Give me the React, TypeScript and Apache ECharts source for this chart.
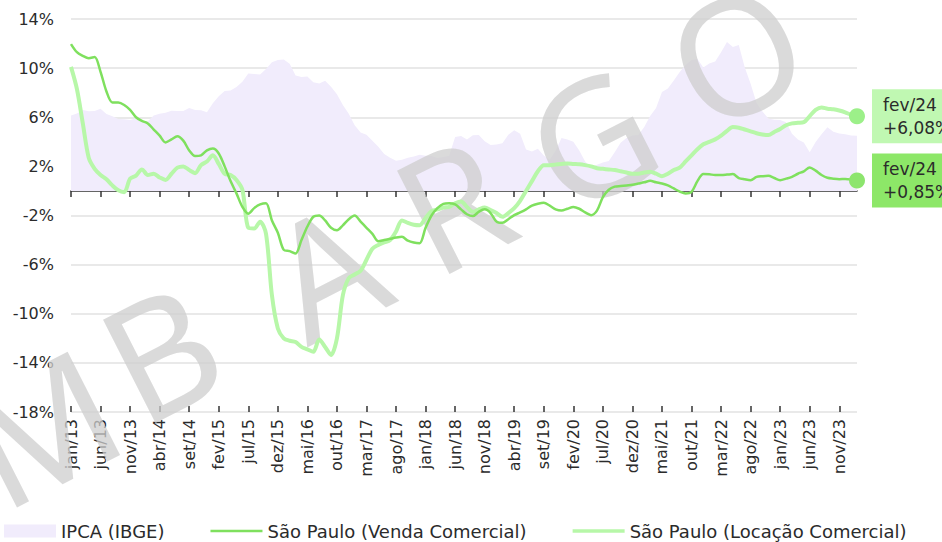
import React, { useEffect, useRef } from "react";
import * as echarts from "echarts";

const MONTHS = ["jan", "fev", "mar", "abr", "mai", "jun", "jul", "ago", "set", "out", "nov", "dez"];
const categories: string[] = [];
for (let y = 2013; y <= 2024; y++) {
  for (let m = 0; m < 12; m++) {
    if (y === 2024 && m > 1) break;
    categories.push(`${MONTHS[m]}/${String(y).slice(2)}`);
  }
}

const ipca = [
  6.15, 6.31, 6.59, 6.49, 6.5, 6.7, 6.27, 6.09, 5.86, 5.84, 5.77, 5.91,
  5.59, 5.68, 6.15, 6.28, 6.37, 6.52, 6.5, 6.51, 6.75, 6.59, 6.56, 6.41,
  7.14, 7.7, 8.13, 8.17, 8.47, 8.89, 9.56, 9.53, 9.49, 9.93, 10.48, 10.67,
  10.71, 10.36, 9.39, 9.28, 9.32, 8.84, 8.74, 8.97, 8.48, 7.87, 6.99, 6.29,
  5.35, 4.76, 4.57, 4.08, 3.6, 3.0, 2.71, 2.46, 2.54, 2.7, 2.8, 2.95,
  2.86, 2.84, 2.68, 2.76, 2.86, 4.39, 4.48, 4.19, 4.53, 4.56, 4.05, 3.75,
  3.78, 3.89, 4.58, 4.94, 4.66, 3.37, 3.22, 3.43, 2.89, 2.54, 3.27, 4.31,
  4.19, 4.01, 3.3, 2.4, 1.88, 2.13, 2.31, 2.44, 3.14, 3.92, 4.31, 4.52,
  4.56, 5.2, 6.1, 6.76, 8.06, 8.35, 8.99, 9.68, 10.25, 10.67, 10.74, 10.06,
  10.38, 10.54, 11.3, 12.13, 11.73, 11.89, 10.07, 8.73, 7.17, 6.47, 5.9, 5.79,
  5.77, 5.6, 4.65, 4.18, 3.94, 3.16, 3.99, 4.61, 5.19, 4.82, 4.68, 4.62,
  4.51, 4.5,
];

const venda = [
  11.96, 11.3, 11.0, 10.8, 10.9, 9.7, 8.1, 7.2, 7.2, 7.0, 6.6, 6.0,
  5.7, 5.5, 5.0, 4.5, 3.95, 4.2, 4.45, 4.1, 3.3, 2.85, 2.9, 3.3,
  3.45, 3.05, 2.0, 0.8, -0.2, -1.3, -1.85, -1.4, -1.1, -1.0, -2.4, -3.4,
  -4.8, -4.9, -5.1, -4.0, -2.9, -2.1, -2.0, -2.4, -3.0, -3.2, -2.8, -2.3,
  -2.0, -2.5, -3.0, -3.5, -4.1, -4.0, -3.9, -3.8, -3.74, -4.05, -4.2, -4.25,
  -3.0, -2.0, -1.4, -1.05, -1.0, -1.1, -1.5, -1.9, -2.05, -1.7, -1.5, -1.8,
  -2.5, -2.6, -2.3, -1.97, -1.75, -1.5, -1.2, -1.05, -0.97, -1.2, -1.5, -1.6,
  -1.45, -1.3, -1.45, -1.75, -1.97, -1.6, -0.5, 0.1, 0.35, 0.4, 0.45, 0.5,
  0.6, 0.7, 0.82, 0.7, 0.6, 0.45, 0.2, -0.05, -0.2, -0.07, 0.8, 1.37,
  1.35, 1.3, 1.3, 1.33, 1.37, 1.05, 0.95, 0.88, 1.15, 1.2, 1.23, 1.05,
  0.88, 1.0, 1.15, 1.4, 1.6, 1.91, 1.65, 1.3, 1.07, 1.0, 0.96, 0.97,
  0.93, 0.85,
];

const locacao = [
  10.1, 8.3, 5.5, 2.7, 1.8, 1.3, 0.95, 0.45, 0.05, -0.1, 1.0, 1.25,
  1.75, 1.3, 1.4, 1.1, 0.9, 1.4, 1.9, 2.0, 1.7, 1.45, 2.1, 2.4,
  2.9, 2.2, 1.4, 1.3, 0.9, 0.1, -3.0, -3.06, -2.5, -3.5, -8.5, -11.2,
  -12.0, -12.2, -12.3, -12.7, -12.9, -13.1, -12.1, -12.7, -13.35, -12.0, -8.5, -7.1,
  -6.8, -6.5, -5.6, -4.7, -4.4, -4.2, -4.0, -3.3, -2.4, -2.6, -2.75, -2.79,
  -2.2, -1.65, -1.5, -1.35, -1.3, -1.0, -0.85, -1.3, -1.7, -1.5, -1.35, -1.55,
  -1.8, -2.11, -1.8, -1.4, -0.8, 0.0, 0.8, 1.6, 2.1, 2.1, 2.15, 2.2,
  2.24, 2.2, 2.17, 2.1, 2.0, 1.85, 1.8, 1.75, 1.7, 1.6, 1.5, 1.4,
  1.4, 1.5, 1.56, 1.4, 1.2, 1.4, 1.7, 1.9, 2.4, 2.9, 3.4, 3.8,
  4.0, 4.2, 4.5, 4.9, 5.2, 5.15, 5.0, 4.85, 4.7, 4.6, 4.55, 4.8,
  5.05, 5.35, 5.5, 5.55, 5.6, 6.1, 6.6, 6.8, 6.7, 6.65, 6.55, 6.4,
  6.2, 6.08,
];

const Y_MIN = -18;
const Y_MAX = 14;
const Y_STEP = 4;

const WATERMARK = ["M", "B", "A", "R", "G", "O"];

const FONT = "DejaVu Sans";
const TEXT = "#2b2b2b";
const C_IPCA = "#F1ECFC";
const C_VENDA = "#7FE05E";
const C_LOC = "#B7F7A8";

function fmtEnd(v: number) {
  const s = v.toFixed(2).replace(".", ",");
  return `${categories[categories.length - 1]}\n${v >= 0 ? "+" : ""}${s}%`;
}

function withEndDot(arr: number[], color: string) {
  return arr.map((v, i) =>
    i === arr.length - 1
      ? { value: v, symbol: "circle", symbolSize: 16, itemStyle: { color } }
      : v
  );
}

export default function App() {
  const ref = useRef<HTMLDivElement>(null);
  useEffect(() => {
    if (!ref.current) return;
    const chart = echarts.init(ref.current, undefined, { renderer: "svg" });
    const wmPos = [
      [40, 425],
      [160, 350],
      [325, 268],
      [452, 202],
      [590, 136],
      [735, 52],
    ];
    const option: any = {
      animation: false,
      backgroundColor: "#ffffff",
      textStyle: { fontFamily: FONT },
      grid: { left: 71, right: 85, top: 19, bottom: 130 },
      graphic: WATERMARK.map((ch, i) => ({
        type: "text",
        x: wmPos[i][0],
        y: wmPos[i][1],
        rotation: 0.47,
        z: 3,
        silent: true,
        style: {
          text: ch,
          fontSize: 162,
          fontFamily: "Noto Sans",
          fill: "rgba(205,205,205,0.75)",
          textAlign: "center",
          textVerticalAlign: "middle",
        },
      })),
      legend: {
        left: 4,
        top: 522,
        padding: 0,
        itemWidth: 52,
        itemHeight: 13,
        itemGap: 46,
        textStyle: { fontFamily: FONT, fontSize: 18, color: TEXT },
        data: [
          { name: "IPCA (IBGE)", icon: "rect", itemStyle: { color: C_IPCA } },
          { name: "São Paulo (Venda Comercial)", icon: "path://M0,0H52V2.5H0Z" },
          { name: "São Paulo (Locação Comercial)", icon: "path://M0,0H52V3.5H0Z" },
        ],
      },
      xAxis: [
        {
          type: "category",
          data: categories,
          boundaryGap: false,
          position: "bottom",
          axisLine: { show: false, onZero: false },
          axisTick: { show: false },
          axisLabel: {
            interval: 4,
            rotate: 90,
            fontFamily: FONT,
            fontSize: 16,
            color: TEXT,
            margin: 7,
          },
          splitLine: { show: false },
        },
        {
          type: "category",
          data: categories,
          boundaryGap: false,
          position: "bottom",
          axisLine: { show: true, onZero: true, lineStyle: { color: "#333", width: 1.5 } },
          axisTick: { show: true, interval: 4, length: 6, inside: false, lineStyle: { color: "#333", width: 1.5 } },
          axisLabel: { show: false },
          splitLine: { show: false },
        },
        {
          type: "category",
          data: categories,
          boundaryGap: false,
          position: "bottom",
          axisLine: { show: false, onZero: true },
          axisTick: { show: true, interval: 4, length: 6, inside: true, lineStyle: { color: "#333", width: 1.5 } },
          axisLabel: { show: false },
          splitLine: { show: false },
        },
      ],
      yAxis: {
        type: "value",
        min: Y_MIN,
        max: Y_MAX,
        interval: Y_STEP,
        axisLine: { show: false },
        axisTick: { show: false },
        axisLabel: {
          formatter: "{value}%",
          fontFamily: FONT,
          fontSize: 16,
          color: TEXT,
          margin: 17,
        },
        splitLine: { lineStyle: { color: "#E2E2E2", width: 1.5 } },
      },
      series: [
        {
          name: "IPCA (IBGE)",
          type: "line",
          data: ipca,
          symbol: "none",
          lineStyle: { width: 0, color: C_IPCA },
          itemStyle: { color: C_IPCA },
          areaStyle: { color: C_IPCA, opacity: 1 },
          z: 1,
          silent: true,
        },
        {
          name: "São Paulo (Venda Comercial)",
          type: "line",
          data: withEndDot(venda, "#8DE56E"),
          symbol: "none",
          showSymbol: true,
          showAllSymbol: true,
          smooth: 0.3,
          lineStyle: { width: 2.5, color: C_VENDA },
          itemStyle: { color: C_VENDA },
          z: 5,
          silent: true,
          endLabel: {
            show: true,
            formatter: () => fmtEnd(venda[venda.length - 1]),
            distance: 15,
            backgroundColor: "#8DE768",
            padding: [4, 14, 4, 11],
            lineHeight: 23,
            fontFamily: FONT,
            fontSize: 17,
            color: TEXT,
          },
        },
        {
          name: "São Paulo (Locação Comercial)",
          type: "line",
          data: withEndDot(locacao, "#9CF089"),
          symbol: "none",
          showSymbol: true,
          showAllSymbol: true,
          smooth: 0.3,
          lineStyle: { width: 4, color: C_LOC },
          itemStyle: { color: C_LOC },
          z: 4,
          silent: true,
          endLabel: {
            show: true,
            formatter: () => fmtEnd(locacao[locacao.length - 1]),
            distance: 15,
            backgroundColor: "#C0F8B2",
            padding: [4, 14, 4, 11],
            lineHeight: 23,
            fontFamily: FONT,
            fontSize: 17,
            color: TEXT,
          },
        },
      ],
    };
    chart.setOption(option);
    return () => chart.dispose();
  }, []);
  return <div ref={ref} style={{ width: 942, height: 542, position: "absolute", left: 0, top: 0 }} />;
}
